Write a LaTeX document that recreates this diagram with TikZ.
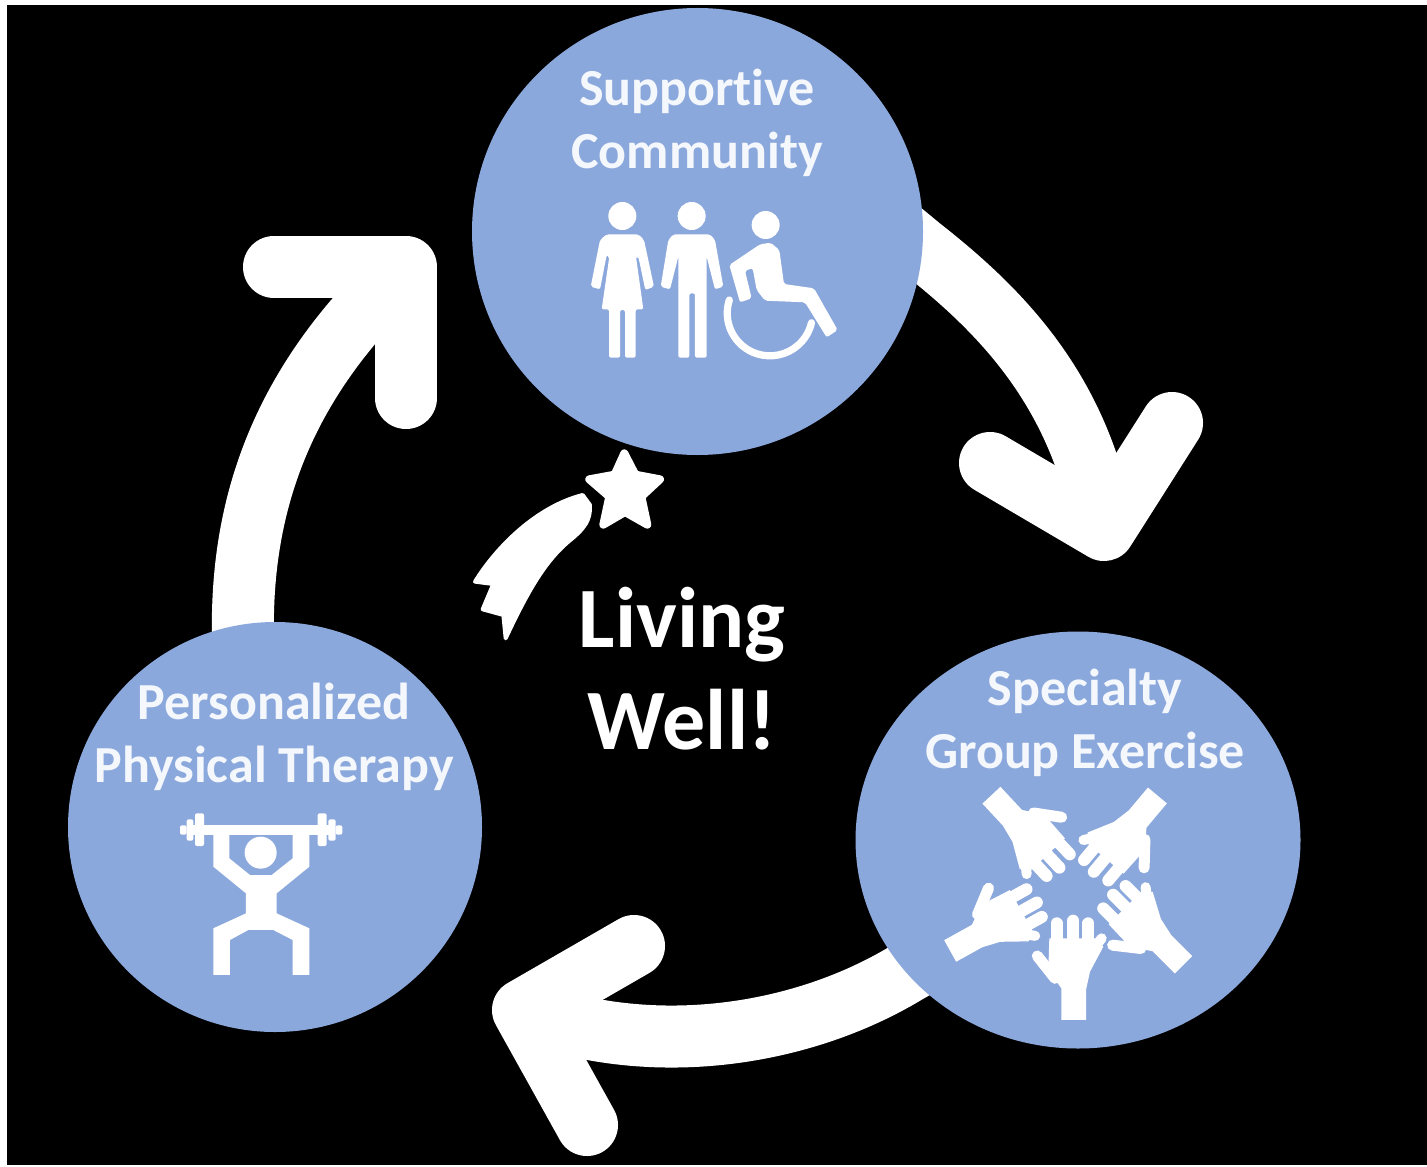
\documentclass[tikz,border=0pt]{standalone}
\usepackage{fontspec}
\setmainfont{Carlito}[Ligatures=NoCommon]
\usetikzlibrary{shapes.geometric}
\definecolor{disc}{HTML}{8BA8DC}
\definecolor{soft}{HTML}{F4F7FC}
\pgfdeclarelayer{bottomlayer}
\pgfdeclarelayer{arrowlayer}
\pgfsetlayers{bottomlayer,arrowlayer,main}
\tikzset{
  disc node/.style={ellipse,fill=disc,draw=none,inner sep=0pt,outer sep=0pt},
  shaft/.style={draw=white,line width=31pt,line cap=butt,line join=round},
  head/.style={draw=white,line width=31pt,line cap=round,line join=round},
  caption/.style={text=soft,font=\bfseries\fontsize{26}{31.5}\selectfont,align=center,inner sep=0pt},
  bigcaption/.style={text=white,font=\bfseries\fontsize{43}{51}\selectfont,align=center,inner sep=0pt},
  limb/.style={draw=white,line cap=round,line join=round},
}
\newcommand{\handicon}[3]{%
  \begin{scope}[shift={(#1,#2)},rotate=#3]
    \fill[white] (-36,0) -- (-36,-95) -- (-75,-150) -- (-72,-245) -- (65,-245) -- (90,-220) -- (50,-145) -- (38,-90) -- (38,0) -- cycle;
    \draw[limb,line width=6pt] (-50,-230) -- (-50,-290);
    \draw[limb,line width=6pt] (0,-240) -- (0,-298);
    \draw[limb,line width=6pt] (45,-230) -- (45,-290);
    \draw[limb,line width=5pt] (50,-200) -- (85,-245);
    \draw[limb,line width=5.5pt] (-55,-125) -- (-108,-192);
  \end{scope}}
\begin{document}
\begin{tikzpicture}[x=0.5pt,y=-0.5pt]
\useasboundingbox (0,0) rectangle (1427,1166);
\begin{pgfonlayer}{bottomlayer}
  \fill[white] (0,0) rectangle (1427,1166);
  \fill[black] (7,5) rectangle (1427,1165);
\end{pgfonlayer}

% discs
\node[disc node,minimum width=225.5pt,minimum height=223.5pt] (top) at (697.5,231.5) {};
\node[disc node,minimum width=207pt,minimum height=205pt] (left) at (275,827) {};
\node[disc node,minimum width=222.5pt,minimum height=208.5pt] (right) at (1078,840) {};

% arrows
\coordinate (a00) at (898,229);
\coordinate (a0) at (921,248);
\coordinate (a1) at (1000,310);
\coordinate (a2) at (1080,390);
\coordinate (a3) at (1104,530);
\coordinate (ah1) at (990,463);
\coordinate (ah2) at (1172,423);
\coordinate (b00) at (932,958);
\coordinate (b0) at (906,973);
\coordinate (b1) at (798,1038);
\coordinate (b2) at (648,1058);
\coordinate (b3) at (523,1010);
\coordinate (bh1) at (634,946);
\coordinate (bh2) at (587,1125);
\coordinate (c0) at (243,640);
\coordinate (c1) at (240,510);
\coordinate (c2) at (278,385);
\coordinate (c3) at (406,267);
\coordinate (ch1) at (274,267);
\coordinate (ch2) at (406,398);
\begin{pgfonlayer}{arrowlayer}
  \draw[shaft] (top.center) -- (a00) -- (a0) .. controls (a1) and (a2) .. (a3);
  \draw[head] (ah1) -- (a3) -- (ah2);
  \draw[shaft] (right.center) -- (b00) -- (b0) .. controls (b1) and (b2) .. (b3);
  \draw[head] (bh1) -- (b3) -- (bh2);
  \draw[shaft] (left.center) -- (c0) .. controls (c1) and (c2) .. (c3);
  \draw[head] (ch1) -- (c3) -- (ch2);
\end{pgfonlayer}

% captions
\node[caption] (t1) at (697,122.5) {Supportive\\Community};
\node[caption] (t2) at (274,737) {Personalized\\Physical Therapy};
\node[caption] (t3) at (1085,722.5) {Specialty\\Group Exercise};
\node[bigcaption] (t4) at (682,669) {Living\\Well!};

% people
\begin{scope}[shift={(570,190)},scale=0.3333]
  \fill[white] (157,78) circle (42);
  \fill[white,rounded corners=1pt] (110,133) -- (205,133) -- (222,150) -- (252,290) -- (226,300) -- (205,200) -- (198,200) -- (220,358) -- (197,358) -- (197,503) -- (165,503) -- (165,360) -- (150,360) -- (150,503) -- (117,503) -- (117,358) -- (95,358) -- (118,200) -- (110,195) -- (90,298) -- (62,290) -- (90,150) -- cycle;
  \fill[white] (365,78) circle (42);
  \fill[white,rounded corners=1pt] (310,133) -- (420,133) -- (435,150) -- (460,290) -- (435,298) -- (410,200) -- (410,503) -- (375,503) -- (375,310) -- (358,310) -- (358,503) -- (325,503) -- (325,200) -- (300,298) -- (272,290) -- (295,150) -- cycle;
  \fill[white] (587,105) circle (42);
  \fill[white,rounded corners=1pt] (602,158) -- (628,180) -- (642,282) -- (732,295) -- (803,420) -- (770,442) -- (705,337) -- (585,332) -- (560,300) -- (548,235) -- (525,242) -- (545,325) -- (510,337) -- (478,225) -- (570,163) -- cycle;
  \draw[white,line width=3.6pt,line cap=round] (478,330) arc[start angle=198,end angle=13,radius=128];
\end{scope}

% lifter
\begin{scope}[shift={(170,800)},scale=0.3333]
  \fill[white] (60,74) rectangle (485,104);
  \fill[white,rounded corners=1pt] (75,40) rectangle (102,138);
  \fill[white,rounded corners=1pt] (50,58) rectangle (70,122);
  \fill[white,rounded corners=1pt] (30,76) rectangle (50,104);
  \fill[white,rounded corners=1pt] (443,40) rectangle (470,138);
  \fill[white,rounded corners=1pt] (475,58) rectangle (497,122);
  \fill[white,rounded corners=1pt] (497,76) rectangle (517,104);
  \fill[white] (272,158) circle (48);
  \fill[white] (130,100) -- (178,100) -- (178,175) -- (240,225) -- (305,225) -- (368,175) -- (368,100) -- (418,100) -- (418,200) -- (320,280) -- (320,340) -- (418,385) -- (418,525) -- (368,525) -- (368,420) -- (310,390) -- (235,390) -- (180,420) -- (180,525) -- (130,525) -- (130,385) -- (228,340) -- (228,280) -- (130,200) -- cycle;
\end{scope}

% hands
\begin{scope}[shift={(930,780)},scale=0.3333]
  \handicon{430}{720}{0}
  \handicon{185}{45}{-137}
  \handicon{683}{47}{140}
  \handicon{60}{512}{-61}
  \handicon{760}{555}{45}
\end{scope}

% shooting star
\begin{scope}[shift={(460,440)},scale=0.3333]
  \filldraw[white,line width=4pt,line join=round] (493,40) -- (526,104) -- (600,118) -- (544,170) -- (562,254) -- (495,216) -- (430,254) -- (448,170) -- (388,118) -- (464,104) -- cycle;
  \filldraw[white,line width=2pt,line join=round] (368,165) -- (390,195) .. controls (392,240) and (375,265) .. (325,305) .. controls (255,365) and (205,450) .. (137,595) -- (130,525) -- (68,508) -- (100,432) -- (45,425) .. controls (110,320) and (230,200) .. (368,165) -- cycle;
\end{scope}
\end{tikzpicture}
\end{document}
